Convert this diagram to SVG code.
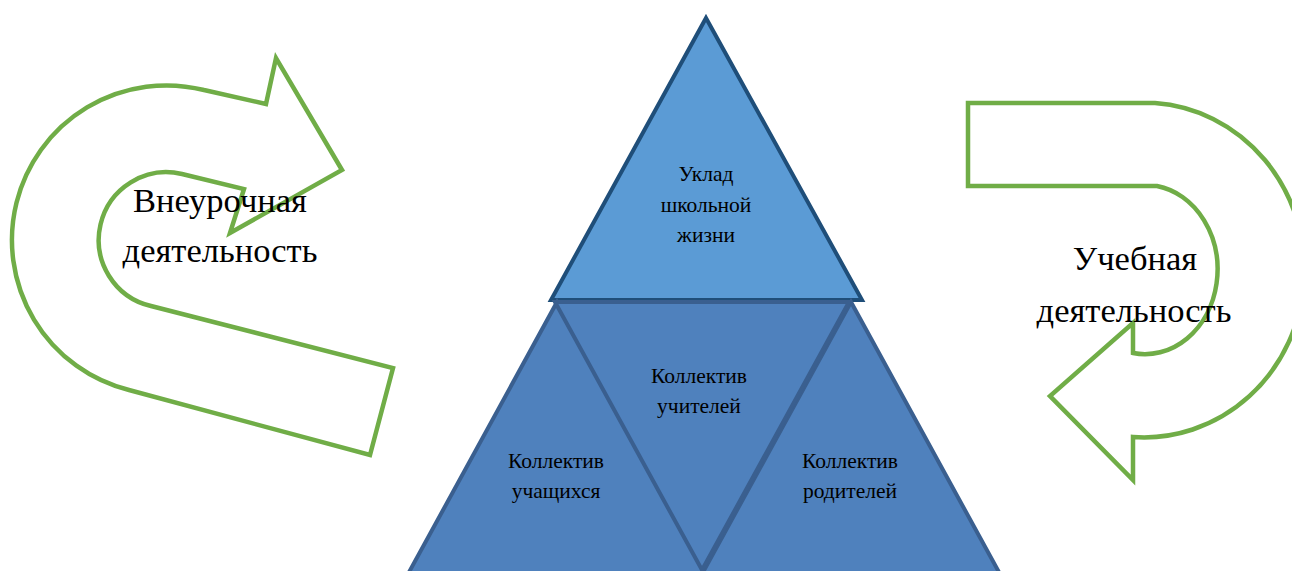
<svg xmlns="http://www.w3.org/2000/svg" width="1292" height="571" viewBox="0 0 1292 571">
  <style>
    .arrow { fill: #FFFFFF; stroke: #70AD47; stroke-width: 4.5; stroke-linejoin: miter; }
    .big { font-family: "Liberation Serif", "Times New Roman", "DejaVu Serif", serif; font-size: 34.5px; fill: #000000; text-anchor: middle; }
    .lbl { font-family: "Liberation Serif", "Times New Roman", "DejaVu Serif", serif; font-size: 21.5px; fill: #000000; text-anchor: middle; }
    .top { fill: #5B9BD5; stroke: #1F4E79; stroke-width: 4; stroke-linejoin: miter; }
    .low { fill: #4F81BD; stroke: #3A5F8F; stroke-width: 4; stroke-linejoin: miter; }
  </style>
  <rect x="0" y="0" width="1292" height="571" fill="#FFFFFF"/>

  <g id="arrow-vneurochnaya">
    <path class="arrow" d="M 342,170 L 276,58 L 266,104 L 204,90 A 150 150 0 0 0 129,390 L 370,455 L 393,368 L 151,306 A 60 60 0 0 1 182,174 L 244,189 L 230,233 Z"/>
    <text class="big" x="220" y="212">Внеурочная</text>
    <text class="big" x="220" y="262">деятельность</text>
  </g>

  <g id="arrow-uchebnaya">
    <path class="arrow" d="M 968,103 L 1155,103 A 160 167 0 0 1 1133,437 L 1133,480 L 1050,396 L 1133,323 L 1133,353 A 72 84 0 0 0 1157,186 L 968,186 Z"/>
    <text class="big" x="1135" y="270">Учебная</text>
    <text class="big" x="1134" y="322">деятельность</text>
  </g>

  <g id="tri-uklad">
    <polygon class="top" points="706,18 862,300 551,300"/>
    <text class="lbl" x="706" y="181">Уклад</text>
    <text class="lbl" x="706" y="212">школьной</text>
    <text class="lbl" x="706" y="242">жизни</text>
  </g>

  <g id="tri-uchashchiesya">
    <polygon class="low" points="557,302 712,585 402,585"/>
    <text class="lbl" x="556" y="468">Коллектив</text>
    <text class="lbl" x="556" y="498">учащихся</text>
  </g>

  <g id="tri-roditeli">
    <polygon class="low" points="851,302 1006,585 696,585"/>
    <text class="lbl" x="850" y="468">Коллектив</text>
    <text class="lbl" x="850" y="498">родителей</text>
  </g>

  <g id="tri-uchitelya">
    <polygon class="low" points="555,302 849,302 702,570"/>
    <text class="lbl" x="699" y="383">Коллектив</text>
    <text class="lbl" x="699" y="413">учителей</text>
  </g>

  <g id="connectors"></g>
</svg>
